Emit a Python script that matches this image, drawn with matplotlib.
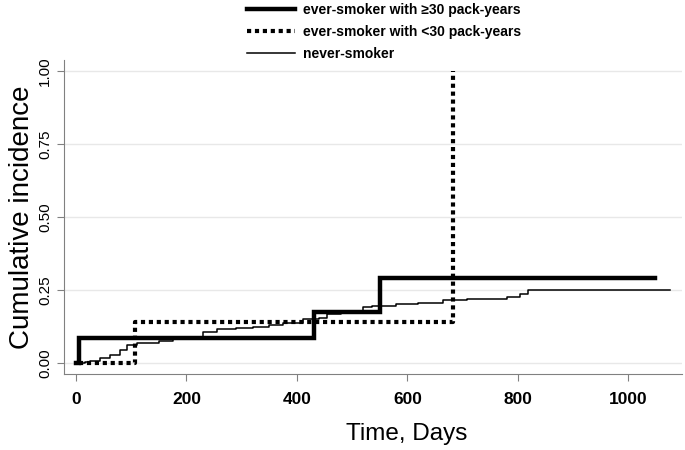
import matplotlib
matplotlib.use("Agg")
import matplotlib.pyplot as plt

# Data
heavy_t = [0, 5, 430, 550, 1048]
heavy_y = [0.0, 0.086, 0.175, 0.292, 0.292]

light_t = [5, 107, 683, 683]
light_y = [0.0, 0.141, 1.0, 1.0]

never_t = [0, 16, 25, 43, 62, 80, 92, 110, 150, 175, 206, 230, 255, 290, 321, 350,
           375, 411, 440, 454, 480, 520, 535, 580, 619, 665, 707, 780, 803, 818, 1075]
never_y = [0.0, 0.003, 0.007, 0.015, 0.027, 0.045, 0.06, 0.068, 0.075, 0.082, 0.09,
           0.105, 0.115, 0.12, 0.124, 0.13, 0.137, 0.15, 0.155, 0.168, 0.175, 0.19,
           0.195, 0.2, 0.206, 0.215, 0.22, 0.227, 0.236, 0.248, 0.248]

labels = ["ever-smoker with \u226530 pack-years",
          "ever-smoker with <30 pack-years",
          "never-smoker"]
xticks = [0, 200, 400, 600, 800, 1000]
yticks = [0.0, 0.25, 0.5, 0.75, 1.0]

plt.rcParams['font.family'] = ['Liberation Sans', 'DejaVu Sans']

fig = plt.figure(figsize=(6.85, 4.5), dpi=100)
ax = fig.add_axes([0.0934, 0.169, 0.9022, 0.698])

ax.step(heavy_t, heavy_y, where='post', color='black', lw=3.2, label=labels[0],
        solid_joinstyle='miter')
ax.step(light_t, light_y, where='post', color='black', lw=3.0, label=labels[1],
        linestyle=(0, (1, 0.9)), dash_capstyle='butt')
ax.step(never_t, never_y, where='post', color='black', lw=1.1, label=labels[2])

ax.set_xlim(-21.7, 1097)
ax.set_ylim(-0.038, 1.038)
ax.set_xticks(xticks)
ax.set_xticklabels([str(v) for v in xticks], fontsize=12.5, fontweight='bold')
ax.set_yticks(yticks)
ax.set_yticklabels([f"{v:.2f}" for v in yticks], fontsize=11, rotation=90, va='center')
ax.grid(axis='y', color='#e8e8e8', lw=1)
ax.set_axisbelow(True)
for s in ['top', 'right']:
    ax.spines[s].set_visible(False)
for s in ['left', 'bottom']:
    ax.spines[s].set_color('#808080')
ax.tick_params(colors='#808080', labelcolor='black', length=5)
ax.tick_params(axis='x', pad=8)

ax.set_xlabel("Time, Days", fontsize=17.5, labelpad=14)
ax.xaxis.set_label_coords(0.555, -0.155)
ax.set_ylabel("Cumulative incidence", fontsize=20, labelpad=2)

leg = fig.legend(loc='upper left', bbox_to_anchor=(0.352, 1.005), frameon=False,
                 prop={'size': 10, 'weight': 'bold'}, handlelength=3.5,
                 handletextpad=0.55, labelspacing=0.55, borderaxespad=0)

fig.savefig("out.png", dpi=100)
